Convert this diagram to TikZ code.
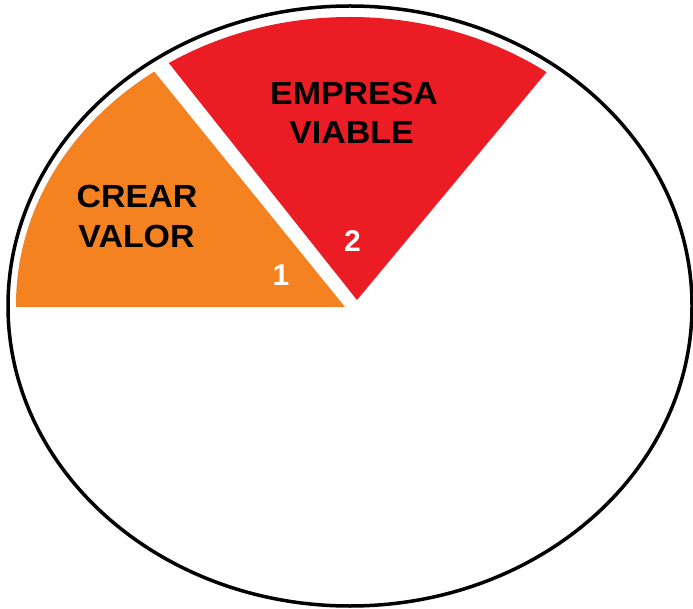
\documentclass[tikz,border=0pt]{standalone}
\usepackage{fontspec}
\setmainfont{Liberation Sans}
\newfontfamily\lblfont{Liberation Sans}[FakeStretch=1.06]
\definecolor{sectorange}{RGB}{245,130,32}
\definecolor{sectred}{RGB}{236,28,36}
\begin{document}
\begin{tikzpicture}[x=1pt,y=-1pt,
  lbl/.style={font=\lblfont\fontsize{32}{38}\selectfont\bfseries, text=black, inner sep=0pt},
  num/.style={font=\fontsize{30}{36}\selectfont\bfseries, text=white, inner sep=0pt}]
\useasboundingbox (0,0) rectangle (693,609);
\begin{scope}
  \clip (350,305) ellipse [x radius=334pt, y radius=288pt];
  \fill[sectorange] (345,307) -- (63,-41) -- (0,-41) -- (0,307) -- cycle;
  \fill[sectred] (357,300) -- (73.5,-57) -- (646.5,-48) -- cycle;
\end{scope}
\draw[line width=3.5pt] (350,306) ellipse [x radius=342pt, y radius=300pt];
\node[lbl] (empresa) at (354,93.5) {EMPRESA};
\node[lbl] (viable) at (351.5,132.5) {VIABLE};
\node[lbl] (crear) at (137,196) {CREAR};
\node[lbl] (valor) at (136.5,236.5) {VALOR};
\node[num] (n1) at (281,275) {1};
\node[num] (n2) at (352.5,241.5) {2};
\end{tikzpicture}
\end{document}
